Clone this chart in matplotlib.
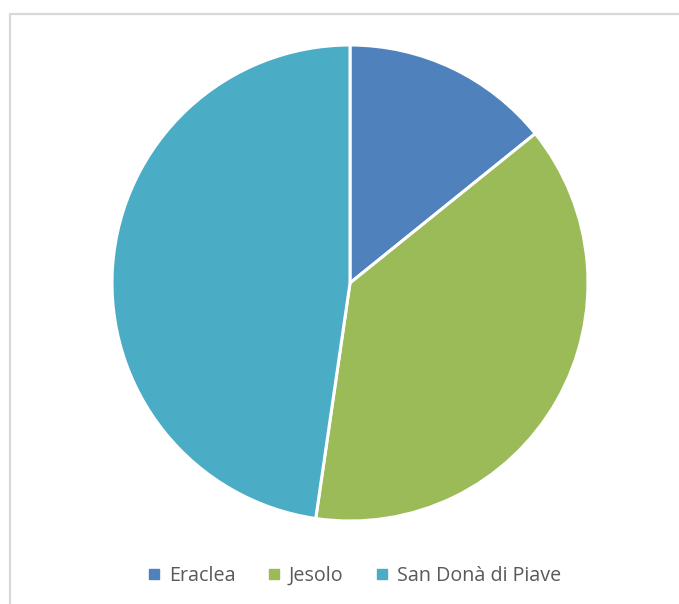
import matplotlib.pyplot as plt
from matplotlib.lines import Line2D
from matplotlib.patches import Rectangle

# share of each comune
comuni = ['Eraclea', 'Jesolo', 'San Donà di Piave']
quote = [14.2, 38.1, 47.7]
colori = ['#4F81BD', '#9BBB59', '#4BACC6']

fig = plt.figure(figsize=(6.79, 6.04), dpi=100)
fig.patch.set_facecolor('white')

# light chart-area frame (top and left edges only)
frame = Rectangle((10 / 679, -0.1), 1.1, 1 - 14 / 604 + 0.1, transform=fig.transFigure,
                  fill=False, edgecolor='#D9D9D9', linewidth=1.6)
fig.add_artist(frame)

cx, cy, r = 350, 283, 238
ax = fig.add_axes([(cx - r) / 679, (604 - cy - r) / 604, 2 * r / 679, 2 * r / 604])
ax.pie(quote, colors=colori, startangle=90, counterclock=False, radius=1,
       wedgeprops=dict(edgecolor='white', linewidth=2.2))
ax.set_xlim(-1, 1)
ax.set_ylim(-1, 1)
ax.set_aspect('equal')
ax.axis('off')

handles = [Line2D([], [], marker='s', linestyle='none', markersize=6.5,
                  markerfacecolor=c, markeredgecolor=c) for c in colori]
fig.legend(handles, comuni, loc='center', bbox_to_anchor=(355 / 679, 28 / 604),
           ncol=3, frameon=False, handlelength=0.5, handletextpad=0.5,
           columnspacing=1.7, prop={'family': 'Open Sans', 'size': 14.2},
           labelcolor='#595959')

fig.savefig('out.png', dpi=100, facecolor='white')
